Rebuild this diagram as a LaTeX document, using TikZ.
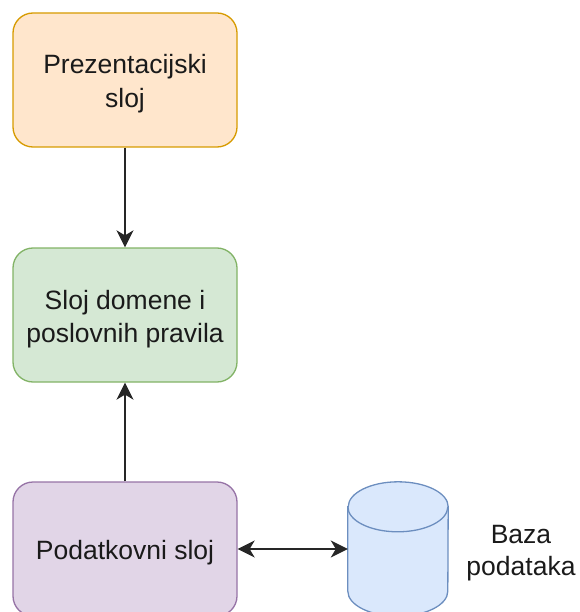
\documentclass[tikz,border=0pt]{standalone}
\usepackage{fontspec}
\setmainfont{Liberation Sans}
\usetikzlibrary{arrows.meta}
\definecolor{orfill}{HTML}{FFE6CC}
\definecolor{orline}{HTML}{D79B00}
\definecolor{grfill}{HTML}{D5E8D4}
\definecolor{grline}{HTML}{82B366}
\definecolor{pufill}{HTML}{E1D5E7}
\definecolor{puline}{HTML}{9673A6}
\definecolor{blfill}{HTML}{DAE8FC}
\definecolor{blline}{HTML}{6C8EBF}
\definecolor{txt}{HTML}{1A1A1A}
\newcommand{\ls}{\rule[-5.2pt]{0pt}{31.8pt}}
\begin{document}
\begin{tikzpicture}[x=1pt,y=-1pt,
  lbl/.style={font=\fontsize{26.5}{31.8}\selectfont, text=txt, align=center, inner sep=0pt},
  box/.style={lbl, rectangle, rounded corners=20pt, minimum width=224pt, minimum height=134pt, line width=1.3pt},
  conn/.style={line width=1.8pt, draw=black!85, -{Stealth[length=17pt,width=17pt,inset=5pt]}},
  bothconn/.style={line width=1.8pt, draw=black!85, {Stealth[length=17pt,width=17pt,inset=5pt]}-{Stealth[length=17pt,width=17pt,inset=5pt]}}
]
\useasboundingbox (0,0) rectangle (579,612);

\node[box, draw=orline, fill=orfill] (pres) at (125,80) {\ls Prezentacijski\\\ls sloj};
\node[box, draw=grline, fill=grfill] (dom) at (125,315) {\ls Sloj domene i\\\ls poslovnih pravila};
\node[box, draw=puline, fill=pufill] (pod) at (125,549) {\ls Podatkovni sloj};

% database cylinder
\node[rectangle, minimum width=100pt, minimum height=134pt, inner sep=0pt] (db) at (398,549) {};
\filldraw[fill=blfill, draw=blline, line width=1.3pt]
  ([yshift=-25pt]db.north west) -- ([yshift=25pt]db.south west)
  arc[start angle=180, end angle=360, x radius=50pt, y radius=25pt]
  -- ([yshift=-25pt]db.north east)
  arc[start angle=0, end angle=180, x radius=50pt, y radius=25pt] -- cycle;
\draw[blline, line width=1.3pt] ([yshift=-25pt]db.north west)
  arc[start angle=180, end angle=360, x radius=50pt, y radius=25pt];

\node[lbl] (dblabel) at (521,549) {\ls Baza\\\ls podataka};

\draw[conn] (pres) -- (dom);
\draw[conn] (pod) -- (dom);
\draw[bothconn] (pod) -- (db.west);
\end{tikzpicture}
\end{document}
